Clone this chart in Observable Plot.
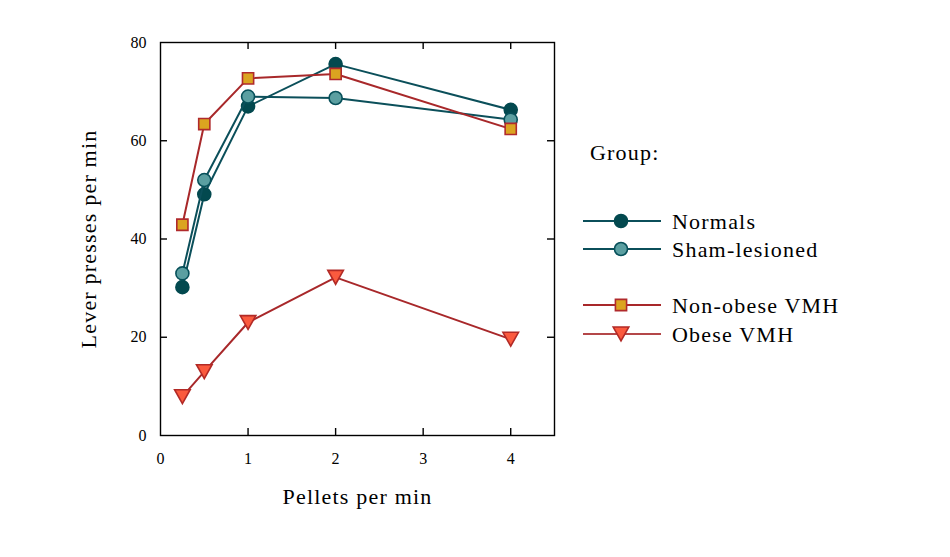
<!DOCTYPE html>
<html><head><meta charset="utf-8">
<script src="https://cdn.jsdelivr.net/npm/d3@7"></script>
<script src="https://cdn.jsdelivr.net/npm/@observablehq/plot@0.6"></script>
<style>
body{margin:0;background:#fff;}
#chart svg text{font-family:"Liberation Serif",serif;}
#chart svg .big text, #chart svg text.big{letter-spacing:1.2px;}
</style>
</head><body><div id="chart"></div>
<script>
// ---- data ----
const pellets = [0.25, 0.5, 1, 2, 4];
const groups = ["Normals", "Sham-lesioned", "Non-obese VMH", "Obese VMH"];
const normals = [30.2, 49.1, 67.0, 75.6, 66.3];
const sham = [33.0, 52.0, 69.0, 68.7, 64.3];
const nonObese = [42.9, 63.4, 72.7, 73.6, 62.4];
const obese = [7.9, 13.0, 23.0, 32.2, 19.6];
const xTicks = [0, 1, 2, 3, 4];
const yTicks = [0, 20, 40, 60, 80];
const xLabel = "Pellets per min";
const yLabel = "Lever presses per min";
const legendTitle = "Group:";

// ---- styles ----
const triangleDown = {
  draw(context, size) {
    const r = Math.sqrt(size / Math.PI);
    const w = r * 1.18, h = r * 2.1;
    context.moveTo(-w, -h / 2);
    context.lineTo(w, -h / 2);
    context.lineTo(0, h / 2);
    context.closePath();
  }
};
const teal = "#0b4f5a";
const red = "#a8282a";
const styles = {
  "Normals": {line: teal, fill: "#03494f", stroke: "#03494f", symbol: "circle", r: 6.5},
  "Sham-lesioned": {line: teal, fill: "#5b9fa1", stroke: "#07505a", symbol: "circle", r: 6.5},
  "Non-obese VMH": {line: red, fill: "#dba420", stroke: "#b02a2c", symbol: "square", r: 6.3},
  "Obese VMH": {line: red, fill: "#fb5a3e", stroke: "#b22a26", symbol: triangleDown, r: 6.6}
};
const seriesValues = [normals, sham, nonObese, obese];
const rows = groups.flatMap((g, i) => pellets.map((x, j) => ({group: g, x, y: seriesValues[i][j]})));

// ---- layout ----
const W = 950, H = 557;
const mL = 160, mR = 396, mT = 42, mB = 122;
const innerW = W - mL - mR, innerH = H - mT - mB;
const tick = 7;
const fw = 1.4;

const seriesMarks = groups.flatMap(g => {
  const d = rows.filter(r => r.group === g);
  const s = styles[g];
  return [
    Plot.line(d, {x: "x", y: "y", stroke: s.line, strokeWidth: 2}),
    Plot.dot(d, {x: "x", y: "y", symbol: () => s.symbol, r: s.r, fill: s.fill, stroke: s.stroke, strokeWidth: 1.6})
  ];
});

const chart = Plot.plot({
  width: W, height: H,
  marginLeft: mL, marginRight: mR, marginTop: mT, marginBottom: mB,
  style: {background: "white", color: "black", fontFamily: "Liberation Serif, serif"},
  x: {domain: [0, 4.5]},
  y: {domain: [0, 80]},
  symbol: {type: "identity"},
  marks: [
    Plot.axisX({ticks: xTicks, tickFormat: d => String(d), tickSize: 0, tickPadding: 17, fontSize: 16, label: null}),
    Plot.axisY({ticks: yTicks, tickFormat: d => String(d), tickSize: 0, tickPadding: 14, fontSize: 16, label: null}),
    Plot.tickX(xTicks.filter(t => t > 0), {x: d => d, insetTop: innerH - tick, stroke: "black", strokeWidth: fw}),
    Plot.tickX(xTicks.filter(t => t > 0), {x: d => d, insetBottom: innerH - tick, stroke: "black", strokeWidth: fw}),
    Plot.tickY(yTicks.filter(t => t > 0 && t < 80), {y: d => d, insetRight: innerW - tick, stroke: "black", strokeWidth: fw}),
    Plot.tickY(yTicks.filter(t => t > 0 && t < 80), {y: d => d, insetLeft: innerW - tick, stroke: "black", strokeWidth: fw}),
    ...seriesMarks,
    Plot.frame({stroke: "black", strokeWidth: fw}),
    Plot.text([xLabel], {frameAnchor: "bottom", dy: 68, fontSize: 22, text: d => d, className: "big"}),
    Plot.text([yLabel], {frameAnchor: "left", textAnchor: "middle", dx: -72, rotate: -90, fontSize: 22, text: d => d, className: "big"})
  ]
});
document.getElementById("chart").appendChild(chart);

// ---- legend (inside the same svg) ----
const svg = d3.select(chart);
const lg = svg.append("g").attr("font-family", "Liberation Serif, serif").attr("fill", "black")
  .attr("text-anchor", "start").attr("class", "big");
lg.append("text").attr("x", 590).attr("y", 160).attr("font-size", 22).text(legendTitle);
const legendY = [221, 249, 305, 334];
groups.forEach((g, i) => {
  const s = styles[g];
  const y = legendY[i];
  lg.append("line").attr("x1", 583).attr("x2", 661).attr("y1", y).attr("y2", y)
    .attr("stroke", s.line).attr("stroke-width", 1.8).attr("opacity", g === "Obese VMH" ? 0.85 : 1);
  const sym = typeof s.symbol === "string" ? (s.symbol === "circle" ? d3.symbolCircle : d3.symbolSquare) : s.symbol;
  lg.append("path").attr("d", d3.symbol(sym, Math.PI * s.r * s.r)())
    .attr("transform", `translate(621,${y})`)
    .attr("fill", s.fill).attr("stroke", s.stroke).attr("stroke-width", 1.6);
  lg.append("text").attr("x", 672).attr("y", y).attr("dy", "0.35em").attr("font-size", 22).text(g);
});
</script>
</body></html>
